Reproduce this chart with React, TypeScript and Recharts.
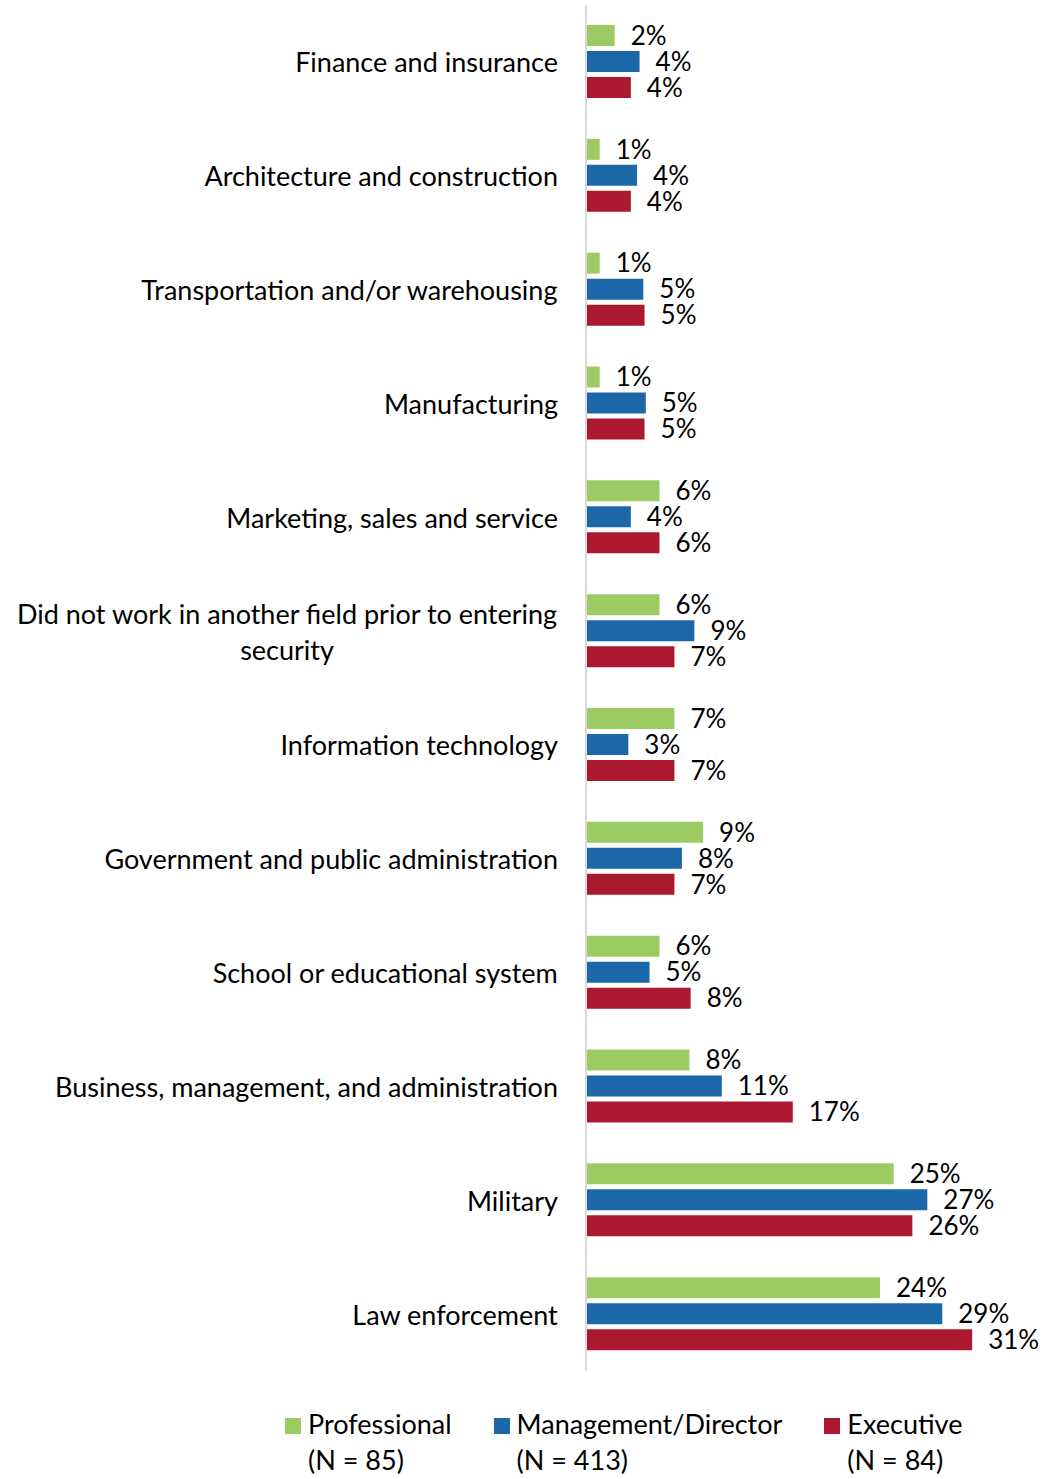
import React from "react";
import { BarChart, Bar, XAxis, YAxis, LabelList } from "recharts";

const categories = [
  "Finance and insurance",
  "Architecture and construction",
  "Transportation and/or warehousing",
  "Manufacturing",
  "Marketing, sales and service",
  "Did not work in another field prior to entering security",
  "Information technology",
  "Government and public administration",
  "School or educational system",
  "Business, management, and administration",
  "Military",
  "Law enforcement",
];

const professional = [2.3, 1.1, 1.1, 1.1, 5.9, 5.9, 7.1, 9.4, 5.9, 8.3, 24.7, 23.6];
const management = [4.3, 4.1, 4.6, 4.8, 3.6, 8.7, 3.4, 7.7, 5.1, 10.9, 27.4, 28.6];
const executive = [3.6, 3.6, 4.7, 4.7, 5.9, 7.1, 7.1, 7.1, 8.4, 16.6, 26.2, 31.0];

const seriesNames = ["Professional", "Management/Director", "Executive"];
const seriesN = ["(N = 85)", "(N = 413)", "(N = 84)"];
const colors = ["#9DCB63", "#1B67A8", "#AB1830"];

const data = categories.map((name, i) => ({
  name,
  professional: professional[i],
  management: management[i],
  executive: executive[i],
}));

const FONT = "Lato, 'Noto Sans', sans-serif";
const FONT_SIZE = 27;
const LABEL_SIZE = 26;

let ctx: CanvasRenderingContext2D | null = null;
function measure(text: string) {
  if (!ctx) {
    ctx = document.createElement("canvas").getContext("2d");
  }
  if (!ctx) return text.length * FONT_SIZE * 0.5;
  ctx.font = `${FONT_SIZE}px Lato`;
  return ctx.measureText(text).width;
}

function wrap(text: string, maxWidth: number) {
  const words = text.split(" ");
  const lines: string[] = [];
  let cur = "";
  for (const w of words) {
    const next = cur ? cur + " " + w : w;
    if (cur && measure(next) > maxWidth) {
      lines.push(cur);
      cur = w;
    } else {
      cur = next;
    }
  }
  if (cur) lines.push(cur);
  return lines;
}

// category labels: right aligned block, lines centred within it
function CategoryTick(props: any) {
  const { x, y, payload } = props;
  const lines = wrap(payload.value, 565);
  const block = Math.max(...lines.map(measure));
  const lh = 36;
  const startY = y - ((lines.length - 1) * lh) / 2;
  return (
    <g>
      {lines.map((l, i) => (
        <text
          key={i}
          x={x - block / 2}
          y={startY + i * lh}
          textAnchor="middle"
          dominantBaseline="central"
          fontSize={FONT_SIZE}
          fontFamily={FONT}
          fill="#000"
        >
          {l}
        </text>
      ))}
    </g>
  );
}

const fmt = (v: any) => `${Math.round(Number(v))}%`;

export default function App() {
  const keys = ["professional", "management", "executive"];
  return (
    <div style={{ width: 1043, height: 1479, background: "#fff", fontFamily: FONT }}>
      <style>{`body{margin:0}`}</style>
      <BarChart
        width={1043}
        height={1380}
        data={data}
        layout="vertical"
        margin={{ top: 5, right: 21, left: 0, bottom: 9 }}
        barSize={21}
        barGap={5}
      >
        <XAxis type="number" domain={[0, 35]} hide />
        <YAxis
          type="category"
          dataKey="name"
          width={586}
          axisLine={{ stroke: "#D9D9D9", strokeWidth: 2 }}
          tickLine={false}
          tickSize={0}
          tickMargin={28}
          tick={<CategoryTick />}
          interval={0}
        />
        {keys.map((k, i) => (
          <Bar key={k} dataKey={k} fill={colors[i]} isAnimationActive={false}>
            <LabelList
              dataKey={k}
              position="right"
              offset={16}
              formatter={fmt}
              fill="#000"
              fontSize={LABEL_SIZE}
              fontFamily={FONT}
            />
          </Bar>
        ))}
      </BarChart>
      <div style={{ display: "flex", gap: 42, paddingLeft: 285, paddingTop: 26 }}>
        {seriesNames.map((s, i) => (
          <div key={s} style={{ display: "flex", alignItems: "flex-start" }}>
            <span
              style={{
                width: 16,
                height: 16,
                background: colors[i],
                display: "inline-block",
                marginTop: 12,
                marginRight: 7,
              }}
            />
            <div style={{ fontSize: FONT_SIZE, lineHeight: "36px", color: "#000" }}>
              <div>{s}</div>
              <div>{seriesN[i]}</div>
            </div>
          </div>
        ))}
      </div>
    </div>
  );
}
